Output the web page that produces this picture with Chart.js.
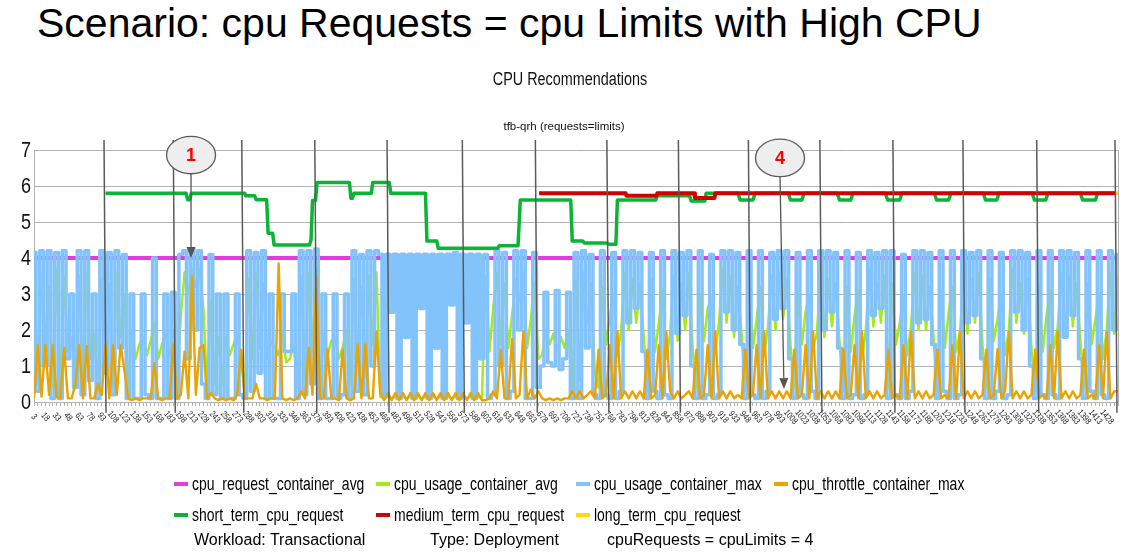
<!DOCTYPE html>
<html><head><meta charset="utf-8">
<script src="https://cdn.jsdelivr.net/npm/chart.js@4.4.1/dist/chart.umd.min.js"></script>
<style>
html,body{margin:0;padding:0;background:#fff;}
#wrap{position:relative;width:1138px;height:558px;overflow:hidden;background:#fff;}
#slideTitle{position:absolute;left:37px;top:0;font-family:'Liberation Sans',Arial,sans-serif;font-size:41px;line-height:47px;color:#000;white-space:nowrap;}
canvas{position:absolute;left:0;top:0;}
.ctitle{position:absolute;left:0;width:0;white-space:nowrap;font-family:'Liberation Sans',Arial,sans-serif;color:#111;}
.ctitle span{position:absolute;left:0;transform:translateX(-50%) scaleX(0.8);}
#legend{position:absolute;left:0;top:468px;width:1138px;display:grid;grid-template-columns:repeat(4,auto);justify-content:center;column-gap:12px;font-family:'Liberation Sans',Arial,sans-serif;font-size:18.5px;color:#000;}
.item{display:flex;align-items:center;height:31px;white-space:nowrap;}
.sw{display:inline-block;width:14px;height:4px;margin-right:4px;flex:none;}
.lt{display:inline-block;overflow:visible;}
.lt span{display:inline-block;transform:scaleX(0.755);transform-origin:0 50%;}
#footer span{position:absolute;top:530px;line-height:20px;font-family:'Liberation Sans',Arial,sans-serif;font-size:16px;color:#000;white-space:nowrap;}
</style></head>
<body><div id="wrap">
<div id="slideTitle">Scenario: cpu Requests = cpu Limits with High CPU</div>
<canvas id="chart" width="1138" height="558"></canvas>
<div class="ctitle" style="left:570px;top:68px;font-size:18px;line-height:22px;"><span>CPU Recommendations</span></div>
<div class="ctitle" style="left:564px;top:119px;font-size:11.5px;line-height:14px;"><span style="transform:translateX(-50%)">tfb-qrh (requests=limits)</span></div>
<div id="legend"></div>
<div id="footer"><span style="left:194px">Workload: Transactional</span><span style="left:430px">Type: Deployment</span><span style="left:607px">cpuRequests = cpuLimits = 4</span></div>
</div>
<script>
// ---- categories (minutes) ----
const minutes = [
3,8,13,18,23,28,33,38,43,48,
53,58,63,68,73,78,83,88,93,98,
103,108,113,118,123,128,133,138,143,148,
153,158,163,168,173,178,183,188,193,198,
203,208,213,218,223,228,233,238,243,248,
253,258,263,268,273,278,283,288,293,298,
303,308,313,318,323,328,333,338,343,348,
353,358,363,368,373,378,383,388,393,398,
403,408,413,418,423,428,433,438,443,448,
453,458,463,468,473,478,483,488,493,498,
503,508,513,518,523,528,533,538,543,548,
553,558,563,568,573,578,583,588,593,598,
603,608,613,618,623,628,633,638,643,648,
653,658,663,668,673,678,683,688,693,698,
703,708,713,718,723,728,733,738,743,748,
753,758,763,768,773,778,783,788,793,798,
803,808,813,818,823,828,833,838,843,848,
853,858,863,868,873,878,883,888,893,898,
903,908,913,918,923,928,933,938,943,948,
953,958,963,968,973,978,983,988,993,998,
1003,1008,1013,1018,1023,1028,1033,1038,1043,1048,
1053,1058,1063,1068,1073,1078,1083,1088,1093,1098,
1103,1108,1113,1118,1123,1128,1133,1138,1143,1148,
1153,1158,1163,1168,1173,1178,1183,1188,1193,1198,
1203,1208,1213,1218,1223,1228,1233,1238,1243,1248,
1253,1258,1263,1268,1273,1278,1283,1288,1293,1298,
1303,1308,1313,1318,1323,1328,1333,1338,1343,1348,
1353,1358,1363,1368,1373,1378,1383,1388,1393,1398,
1403,1408,1413,1418,1423,1428,1433,1438,1443];

// ---- x tick labels ----
const tickLabels = [3,18,33,48,63,78,93,108,123,138,153,168,183,198,213,228,243,258,273,288,303,318,333,348,363,378,393,408,423,438,453,468,483,498,513,528,543,558,573,588,603,618,633,648,663,678,693,708,723,738,753,768,783,798,813,828,843,858,873,888,903,918,933,948,963,978,993,1008,1023,1038,1053,1068,1083,1098,1113,1128,1143,1158,1173,1188,1203,1218,1233,1248,1263,1278,1293,1308,1323,1338,1353,1368,1383,1398,1413,1428];

// ---- y tick labels ----
const yTickLabels = [0,1,2,3,4,5,6,7];

// ---- series: cpu_usage_container_max ----
const usageMax = [
4.15,0.3,4.2,1.0,4.2,0.1,4.15,0.1,4.2,1.2,
3.0,0.4,4.2,0.2,4.2,0.6,3.0,0.1,4.2,0.8,
4.15,0.2,4.2,1.5,4.1,0.1,3.0,0.1,0.1,3.0,
0.2,0.1,4.0,0.1,0.1,3.0,0.1,3.05,0.1,4.1,
4.2,1.2,4.25,2.0,4.2,0.5,0.1,4.1,0.2,3.0,
0.1,3.0,0.1,0.1,3.0,0.2,0.1,4.2,0.3,4.15,
0.8,4.2,0.1,3.0,0.1,0.1,3.0,1.4,1.4,3.0,
0.1,4.2,0.2,4.2,0.5,4.25,0.1,3.0,0.1,0.1,
3.0,0.1,0.2,3.0,0.1,4.2,0.3,4.1,0.2,4.2,
1.0,4.2,4.1,0.2,4.1,2.5,4.1,0.1,4.1,1.8,
4.1,0.1,4.1,2.6,4.1,0.1,4.1,1.5,4.1,0.1,
4.1,2.7,4.15,0.1,4.1,2.2,4.1,0.1,4.1,1.2,
4.1,0.1,0.2,4.2,1.0,4.15,0.1,0.3,4.2,2.0,
4.2,0.1,0.1,4.15,0.4,1.0,3.05,1.1,1.0,3.1,
0.9,1.2,3.05,0.1,4.15,0.1,4.2,1.5,4.1,0.2,
0.1,4.2,0.2,0.1,4.15,0.1,0.3,4.2,2.2,4.2,2.6,4.15,1.4,
0.1,4.15,0.3,0.1,4.2,0.2,0.1,4.2,1.9,4.15,2.4,4.2,1.0,
0.1,4.2,0.1,0.2,4.1,0.1,0.2,4.2,2.5,4.2,2.0,4.15,1.6,
0.1,4.2,0.2,0.1,4.2,0.1,0.3,4.15,2.3,4.2,2.6,4.2,1.2,
0.1,4.15,0.2,0.1,4.2,0.3,0.1,4.2,2.0,4.2,2.5,4.15,1.5,
0.1,4.2,0.1,0.2,4.15,0.1,0.2,4.2,2.4,4.15,2.6,4.2,
0.1,4.2,0.2,0.1,4.1,0.1,0.3,4.2,2.2,4.2,2.3,4.15,1.6,
0.1,4.2,0.3,0.1,4.2,0.1,0.2,4.2,2.2,4.15,2.4,4.2,1.2,
0.1,4.2,0.1,0.3,4.15,0.1,0.2,4.2,2.5,4.2,2.0,4.15,1.0,
0.1,4.2,0.2,0.1,4.2,0.2,0.1,4.2,1.8,4.2,2.4,4.15,1.2,
0.1,4.2,0.3,0.1,4.2,0.2,0.1,4.2,2.0,4.1];

// ---- series: cpu_usage_container_avg ----
const usageAvg = [
3.4,0.5,3.6,1.5,3.2,0.4,3.7,0.2,3.5,1.4,
1.8,0.6,3.5,0.4,3.6,1.2,1.9,0.3,3.4,1.3,
3.3,0.4,3.6,1.8,3.0,0.3,2.0,1.2,1.6,1.8,
1.3,1.7,2.2,1.2,1.6,1.9,1.3,2.0,0.6,2.4,
3.6,3.0,3.7,3.2,3.7,2.6,0.4,2.8,0.5,1.8,
0.5,1.8,1.3,1.6,1.9,1.2,0.3,3.4,1.2,3.6,
1.5,3.3,1.2,1.7,1.5,1.3,1.9,1.1,1.2,1.6,
0.4,3.5,0.6,3.6,1.4,3.7,0.5,1.9,1.3,1.7,
1.8,1.2,1.5,2.0,0.5,3.4,1.3,3.2,0.7,3.5,
1.6,3.6,0.15,0.1,0.15,0.1,0.15,0.1,0.15,0.1,
0.15,0.1,0.15,0.1,0.15,0.1,0.15,0.1,0.15,0.1,
0.15,0.1,0.15,0.1,0.15,0.1,0.15,0.1,0.15,0.1,
3.5,1.4,2.6,3.6,1.6,3.3,1.5,2.4,3.4,2.8,
3.6,1.5,2.3,3.3,1.2,1.3,2.0,1.6,1.9,1.4,
1.8,1.5,2.0,0.3,3.4,0.6,3.6,2.2,3.3,0.8,
0.4,3.2,1.6,2.4,3.0,1.3,2.0,3.6,2.0,3.4,2.2,3.3,1.8,
0.3,3.4,1.4,2.2,3.1,1.2,1.9,3.5,1.7,3.3,2.0,3.6,1.5,
0.4,3.0,1.7,2.6,2.9,1.4,2.2,3.7,2.2,3.5,1.8,3.2,1.9,
0.3,3.3,1.5,2.3,3.2,1.3,2.1,3.5,2.0,3.6,2.3,3.4,1.6,
0.4,3.1,1.6,2.5,3.0,1.5,1.9,3.6,1.8,3.4,2.1,3.3,1.7,
0.3,3.2,1.4,2.4,3.1,1.2,2.0,3.7,2.1,3.3,2.2,3.5,
0.4,3.3,1.6,2.2,2.9,1.3,2.1,3.6,2.0,3.5,2.0,3.2,1.8,
0.3,3.1,1.5,2.5,3.2,1.4,1.9,3.5,1.9,3.4,2.2,3.6,1.6,
0.4,3.4,1.7,2.3,3.0,1.3,2.0,3.7,2.2,3.3,1.9,3.4,1.5,
0.3,3.2,1.4,2.4,3.1,1.5,2.1,3.6,1.8,3.5,2.1,3.3,1.7,
0.4,3.3,1.6,2.3,3.0,1.2,2.0,3.6,1.9,3.5];

// ---- series: cpu_throttle_container_max ----
const throttleMax = [
0.1,1.58,0.15,1.58,0.2,1.58,0.15,0.1,1.5,0.1,
0.1,0.5,1.58,0.1,1.55,0.1,0.1,0.5,0.2,1.58,
0.1,1.58,0.2,1.58,0.9,0.1,0.05,0.1,0.05,0.1,
0.1,0.1,1.08,0.1,0.05,0.1,0.1,1.6,0.1,0.2,
1.4,0.1,3.5,0.2,1.5,1.58,0.1,0.25,0.1,0.05,
0.1,0.05,0.1,0.05,0.2,1.45,0.1,0.1,0.1,0.5,
0.1,0.1,0.05,0.1,0.1,3.85,0.1,0.05,0.1,0.05,
0.1,0.3,0.1,1.5,0.2,3.5,0.1,0.1,1.45,0.1,
0.1,0.05,1.45,0.1,0.05,0.1,1.6,0.1,1.6,0.1,
0.1,1.95,0.25,0.05,0.25,0.05,0.25,0.05,0.25,0.05,
0.25,0.05,0.25,0.05,0.25,0.05,0.25,0.05,0.25,0.05,
0.25,0.05,0.25,0.05,0.25,0.05,0.25,0.05,0.25,0.05,
0.05,0.1,0.3,0.1,1.45,0.1,0.1,1.75,0.1,0.2,
1.95,0.1,0.35,0.1,0.3,0.1,0.05,0.1,0.05,0.1,
0.05,0.1,0.1,0.3,0.1,0.3,0.1,0.2,0.3,0.1,
1.45,0.1,0.2,1.58,0.1,1.95,0.1,0.3,0.1,0.3,
0.1,0.3,0.1,1.45,0.1,0.2,1.58,0.1,1.95,0.3,
0.1,0.3,0.1,0.2,0.3,0.1,1.45,0.1,0.2,1.58,
0.1,1.95,0.1,0.3,0.1,0.3,0.1,0.2,0.1,1.45,
0.1,0.2,1.58,0.1,1.95,0.1,0.3,0.1,0.3,0.1,
0.3,0.1,1.45,0.1,0.2,1.58,0.1,1.95,0.1,0.3,
0.1,0.3,0.1,0.3,0.1,1.47,0.1,0.2,1.58,0.1,
1.95,0.1,0.3,0.1,0.3,0.1,0.2,1.45,0.1,0.2,
0.1,1.58,0.1,1.95,0.1,0.3,0.1,0.3,0.1,0.2,
1.45,0.1,0.2,0.1,1.58,0.1,1.95,0.1,0.3,0.1,
0.3,0.1,0.2,1.45,0.1,0.2,1.47,0.1,0.3,1.95,
0.1,0.3,0.1,0.3,0.1,0.2,1.45,0.1,0.2,0.1,
1.58,0.1,1.95,0.1,0.3,0.1,0.3,0.1,0.2,1.45,
0.1,0.2,0.1,1.58,0.1,1.95,0.1,0.3,0.3];

// ---- series: cpu_request_container_avg ----
const requestX = [3, 1440];
const requestY = [4, 4];

// ---- series: short_term_cpu_request ----
const shortX = [98,205,207,210,212,283,284,296,298,312,314,320,322,369,371,373,377,379,422,424,426,428,451,453,475,477,523,525,538,540,619,621,646,649,716,718,732,734,764,766,776,778,829,831,874,876,894,896,
938,941,958,961,1005,1008,1023,1026,1070,1073,1088,1091,1134,1137,1153,1156,1199,1202,1218,1221,1264,1267,1282,1285,1329,1332,1347,1350,1393,1396,1413,1416,1440];
const shortY = [5.8,5.8,5.62,5.62,5.8,5.8,5.73,5.73,5.62,5.62,4.69,4.69,4.36,4.36,4.5,5.6,5.6,6.1,6.1,5.66,5.66,5.8,5.8,6.1,6.1,5.8,5.8,4.47,4.47,4.27,4.27,4.34,4.34,5.61,5.61,4.47,4.47,4.42,4.42,4.38,4.38,5.61,5.61,5.73,5.73,5.58,5.58,5.8,
5.8,5.61,5.61,5.8,5.8,5.61,5.61,5.8,5.8,5.61,5.61,5.8,5.8,5.61,5.61,5.8,5.8,5.61,5.61,5.8,5.8,5.61,5.61,5.8,5.8,5.61,5.61,5.8,5.8,5.61,5.61,5.8,5.8];

// ---- series: medium_term_cpu_request ----
const mediumX = [674,789,790,830,831,880,881,907,908,1440];
const mediumY = [5.8,5.8,5.73,5.73,5.8,5.8,5.67,5.67,5.8,5.8];

// ---- series: long_term_cpu_request ----
const longX = [1440,1443];
const longY = [5.8,5.8];

// ---- overlay annotations (minutes / cores) ----
const markerLines = [96,188,279,376,472,572,669,764,859,952,1047,1144,1237,1335,1439];
const callouts = [
  {text:'1', x:211.6, y:6.86, tipX:211.6, tipY:4.0},
  {text:'4', x:994, y:6.78, tipX:999.3, tipY:0.36}
];
// span of minutes where the max-usage trace is a dense solid block
const denseFrom = 463, denseTo = 602;

[usageMax, usageAvg, throttleMax].forEach(a => { if (a.length !== minutes.length) throw new Error('length mismatch ' + a.length); });
if (shortX.length !== shortY.length) throw new Error('short mismatch');

const zip = (xs, ys) => xs.map((x, i) => ({x: x, y: ys[i]}));
const NARROW = 0.8;
const FONT = "'Liberation Sans', Arial, sans-serif";

const overlay = {
  id: 'overlay',
  afterDraw(chart) {
    const ctx = chart.ctx, a = chart.chartArea, xs = chart.scales.x, ys = chart.scales.y;
    ctx.save();
    ctx.strokeStyle = '#b3b3b3'; ctx.lineWidth = 1;
    ctx.beginPath(); ctx.moveTo(a.right + 0.5, a.top); ctx.lineTo(a.right + 0.5, a.bottom); ctx.stroke();
    // y labels (condensed)
    ctx.fillStyle = '#111'; ctx.font = "22px " + FONT;
    ctx.textAlign = 'right'; ctx.textBaseline = 'middle';
    yTickLabels.forEach(v => {
      ctx.save(); ctx.translate(a.left - 3, ys.getPixelForValue(v) + 1); ctx.scale(0.82, 1);
      ctx.fillText(String(v), 0, 0); ctx.restore();
    });
    // rotated x labels
    ctx.fillStyle = '#222'; ctx.font = "9px " + FONT;
    ctx.textAlign = 'center'; ctx.textBaseline = 'middle';
    tickLabels.forEach(v => {
      const px = xs.getPixelForValue(v);
      ctx.save(); ctx.translate(px, a.bottom + 15); ctx.rotate(50 * Math.PI / 180); ctx.scale(NARROW, 1);
      ctx.fillText(String(v), 0, 0); ctx.restore();
    });
    // vertical marker lines
    ctx.strokeStyle = '#5a5a5a'; ctx.lineWidth = 1.5;
    markerLines.forEach(v => {
      const px = xs.getPixelForValue(v);
      ctx.beginPath(); ctx.moveTo(px, ys.getPixelForValue(7.28)); ctx.lineTo(px + 2, ys.getPixelForValue(-0.3)); ctx.stroke();
    });
    // callouts
    callouts.forEach(c => {
      const cx = xs.getPixelForValue(c.x), cy = ys.getPixelForValue(c.y);
      const tx = xs.getPixelForValue(c.tipX), ty = ys.getPixelForValue(c.tipY);
      const rx = 24.5, ry = 18.7;
      const sx = cx, sy = cy + ry;
      const ang = Math.atan2(ty - sy, tx - sx);
      const hl = 11, hw = 4.5;
      const bx = tx - hl * Math.cos(ang), by = ty - hl * Math.sin(ang);
      ctx.strokeStyle = '#555'; ctx.lineWidth = 1.3;
      ctx.beginPath(); ctx.moveTo(sx, sy); ctx.lineTo(bx, by); ctx.stroke();
      ctx.fillStyle = '#555';
      ctx.beginPath(); ctx.moveTo(tx, ty);
      ctx.lineTo(bx + hw * Math.sin(ang), by - hw * Math.cos(ang));
      ctx.lineTo(bx - hw * Math.sin(ang), by + hw * Math.cos(ang));
      ctx.closePath(); ctx.fill();
      ctx.beginPath(); ctx.ellipse(cx, cy, rx, ry, 0, 0, Math.PI * 2);
      ctx.fillStyle = '#eeeeee'; ctx.fill();
      ctx.strokeStyle = '#5a5a5a'; ctx.lineWidth = 1.3; ctx.stroke();
      ctx.fillStyle = '#ff0000'; ctx.font = "bold 18px " + FONT;
      ctx.textAlign = 'center'; ctx.textBaseline = 'middle';
      ctx.fillText(c.text, cx, cy + 1);
    });
    ctx.restore();
  }
};

const chart = new Chart(document.getElementById('chart'), {
  type: 'line',
  data: {
    datasets: [
      {label:'cpu_request_container_avg', data: zip(requestX, requestY), borderColor:'#e03ce0', backgroundColor:'#e03ce0', borderWidth:4, order:7},
      {label:'cpu_usage_container_avg', data: zip(minutes, usageAvg), borderColor:'#a6ea1c', backgroundColor:'#a6ea1c', borderWidth:2.5, order:6},
      {label:'cpu_usage_container_max', data: zip(minutes, usageMax), borderColor:'#83c3fb', backgroundColor:'#83c3fb', borderWidth:3.5, stepped:'middle', order:5,
        segment: {borderWidth: c => (c.p0.parsed.x >= denseFrom && c.p1.parsed.x <= denseTo) ? 3.9 : undefined}},
      {label:'cpu_throttle_container_max', data: zip(minutes, throttleMax), borderColor:'#eaa300', backgroundColor:'#eaa300', borderWidth:2.4, order:4},
      {label:'short_term_cpu_request', data: zip(shortX, shortY), borderColor:'#0ab535', backgroundColor:'#0ab535', borderWidth:3.5, order:3},
      {label:'medium_term_cpu_request', data: zip(mediumX, mediumY), borderColor:'#d00000', backgroundColor:'#d00000', borderWidth:4, order:2},
      {label:'long_term_cpu_request', data: zip(longX, longY), borderColor:'#ffd900', backgroundColor:'#ffd900', borderWidth:3.5, order:1}
    ]
  },
  options: {
    responsive: false, animation: false, devicePixelRatio: 1, events: [],
    layout: {padding: {left: 0, right: 20, top: 150, bottom: 152}},
    elements: {point: {radius: 0, hoverRadius: 0}, line: {tension: 0, borderJoinStyle: 'round', borderCapStyle: 'butt', fill: false}},
    plugins: {legend: {display: false}, tooltip: {enabled: false}, title: {display: false}},
    scales: {
      x: {
        type: 'linear', min: 3, max: 1443,
        afterBuildTicks: s => { s.ticks = minutes.map(v => ({value: v})); },
        afterFit: s => { s.height = 4; },
        ticks: {display: false},
        grid: {drawOnChartArea: false, drawTicks: true, tickLength: 4, color: '#b3b3b3'},
        border: {display: true, color: '#b3b3b3'}
      },
      y: {
        type: 'linear', min: 0, max: 7,
        afterFit: s => { s.width = 34; },
        ticks: {stepSize: 1, display: false},
        grid: {color: '#b3b3b3', drawTicks: false},
        border: {display: true, color: '#b3b3b3'}
      }
    }
  },
  plugins: [overlay]
});

// legend built from the chart's datasets (condensed text)
const mctx = document.createElement('canvas').getContext('2d');
mctx.font = "18.5px " + FONT;
const leg = document.getElementById('legend');
chart.data.datasets.forEach(ds => {
  const it = document.createElement('div'); it.className = 'item';
  const sw = document.createElement('span'); sw.className = 'sw'; sw.style.background = ds.borderColor;
  const lt = document.createElement('span'); lt.className = 'lt';
  lt.style.width = (mctx.measureText(ds.label).width * 0.755).toFixed(1) + 'px';
  const inner = document.createElement('span'); inner.textContent = ds.label;
  lt.appendChild(inner);
  it.appendChild(sw); it.appendChild(lt); leg.appendChild(it);
});
</script>
</body></html>
